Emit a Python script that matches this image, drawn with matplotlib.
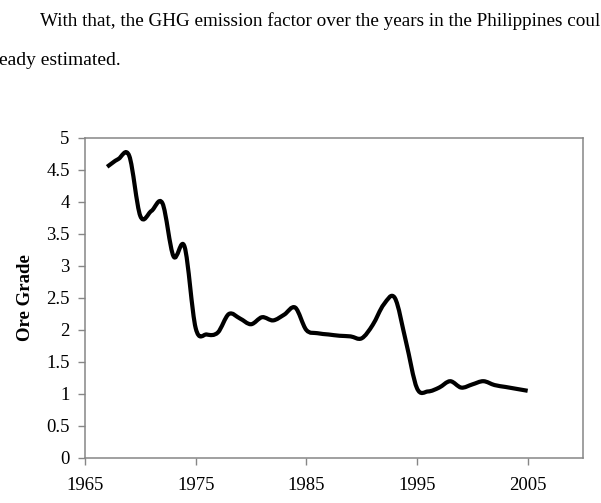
"""Ore grade over the years (Philippines), redrawn as a smoothed Excel-style line."""

import matplotlib

matplotlib.use("Agg")
import matplotlib.pyplot as plt
import numpy as np
from matplotlib.path import Path
from matplotlib.patches import PathPatch

plt.rcParams["font.family"] = ["Liberation Serif", "DejaVu Serif"]

# yearly ore grade
years = list(range(1967, 2006))
ore_grade = [
    4.55, 4.67, 4.72, 3.78, 3.86, 3.98, 3.15, 3.30, 2.03, 1.93,
    1.96, 2.25, 2.18, 2.09, 2.20, 2.15, 2.24, 2.35, 2.00, 1.95,
    1.93, 1.91, 1.90, 1.87, 2.08, 2.40, 2.50, 1.82, 1.09, 1.04,
    1.10, 1.20, 1.10, 1.15, 1.20, 1.14, 1.11, 1.08, 1.05,
]
x_ticks = [1965, 1975, 1985, 1995, 2005]
y_ticks = [0, 0.5, 1, 1.5, 2, 2.5, 3, 3.5, 4, 4.5, 5]
y_tick_labels = ["0", "0.5", "1", "1.5", "2", "2.5", "3", "3.5", "4", "4.5", "5"]

para_line1 = "With that, the GHG emission factor over the years in the Philippines coul"
para_line2 = "eady estimated."


def smooth_path(xs, ys):
    """Excel-like smoothed line: cubic Bezier segments through every point."""
    pts = np.column_stack([xs, ys]).astype(float)
    n = len(pts)
    verts = [pts[0]]
    codes = [Path.MOVETO]
    for i in range(n - 1):
        p_prev = pts[i - 1] if i > 0 else pts[i]
        p0, p1 = pts[i], pts[i + 1]
        p_next = pts[i + 2] if i + 2 < n else pts[i + 1]
        c1 = p0 + (p1 - p_prev) / 6.0
        c2 = p1 - (p_next - p0) / 6.0
        verts += [c1, c2, p1]
        codes += [Path.CURVE4] * 3
    return Path(verts, codes)


fig = plt.figure(figsize=(6.01, 5.03), dpi=100)
ax = fig.add_axes([85 / 601, 45 / 503, 498 / 601, 320 / 503])

patch = PathPatch(smooth_path(years, ore_grade), facecolor="none",
                  edgecolor="black", linewidth=3.0, capstyle="butt",
                  joinstyle="round")
ax.add_patch(patch)

ax.set_xlim(1965, 2010)
ax.set_ylim(0, 5)
ax.set_xticks(x_ticks)
ax.set_xticklabels([str(t) for t in x_ticks])
ax.set_yticks(y_ticks)
ax.set_yticklabels(y_tick_labels)
ax.tick_params(axis="both", direction="out", length=5, width=1,
               color="#868686", labelsize=13.5)
ax.tick_params(axis="y", pad=6)
ax.tick_params(axis="x", pad=9)
for side in ["left", "bottom", "top", "right"]:
    ax.spines[side].set_color("#868686")
    ax.spines[side].set_linewidth(1.1)

fig.text(25 / 601, 1 - 298 / 503, "Ore Grade", rotation=90, ha="center",
         va="center", fontsize=13.5, fontweight="bold")

# paragraph text around the figure on the scanned page
fig.text(600 / 601, 1 - 26 / 503, para_line1, ha="right", va="baseline",
         fontsize=13.8)
fig.text(-1 / 601, 1 - 65 / 503, para_line2, ha="left", va="baseline",
         fontsize=14)

fig.savefig("out.png", dpi=100)
plt.close(fig)
